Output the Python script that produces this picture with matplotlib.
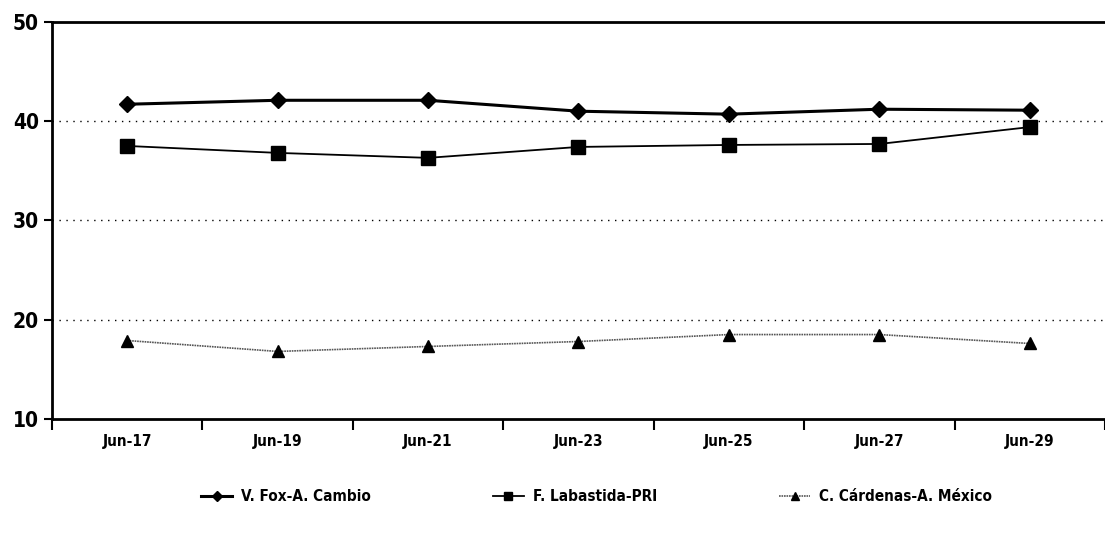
import matplotlib.pyplot as plt

# Poll dates and candidate series
dates = ['Jun-17', 'Jun-19', 'Jun-21', 'Jun-23', 'Jun-25', 'Jun-27', 'Jun-29']
fox = [41.7, 42.1, 42.1, 41.0, 40.7, 41.2, 41.1]
labastida = [37.5, 36.8, 36.3, 37.4, 37.6, 37.7, 39.4]
cardenas = [17.9, 16.8, 17.3, 17.8, 18.5, 18.5, 17.6]
yticks = [10, 20, 30, 40, 50]

plt.rcParams['font.family'] = ['DejaVu Sans']
plt.rcParams['font.stretch'] = 'condensed'

fig = plt.figure(figsize=(11.05, 5.33), dpi=100)
ax = fig.add_axes([0.047, 0.214, 0.953, 0.745])

x = range(len(dates))
ax.plot(x, fox, color='black', lw=2.2, marker='D', ms=8, label='V. Fox-A. Cambio')
ax.plot(x, labastida, color='black', lw=1.3, marker='s', ms=10, label='F. Labastida-PRI')
ax.plot(x, cardenas, color='#555555', lw=1.2, ls=(0, (1, 0.5)), marker='^', ms=9,
        mfc='black', mec='black', label='C. Cárdenas-A. México')

ax.set_ylim(10, 50)
ax.set_xlim(-0.5, len(dates) - 0.5)
ax.set_yticks(yticks)
ax.set_yticklabels([str(v) for v in yticks], fontsize=15, fontweight='bold')

# category ticks between points, labels centred under points
ax.set_xticks([i - 0.5 for i in range(len(dates) + 1)])
ax.set_xticklabels([])
ax.set_xticks(list(x), minor=True)
ax.set_xticklabels(dates, minor=True, fontsize=11, fontweight='bold')
ax.tick_params(axis='x', which='minor', length=0, pad=11)
ax.tick_params(axis='x', which='major', length=8, width=1.5, direction='out')
ax.tick_params(axis='y', length=6, width=1.5, direction='out')

for v in [20, 30, 40]:
    ax.axhline(v, color='black', lw=1.0, ls=(0, (1, 4)))

for s in ['left', 'bottom', 'top']:
    ax.spines[s].set_linewidth(2)
ax.spines['right'].set_visible(False)

fig.legend(loc='center', bbox_to_anchor=(0.54, 0.068), ncol=3, frameon=False,
           columnspacing=8, handlelength=2.0, handletextpad=0.6, markerscale=0.6,
           prop={'size': 11, 'weight': 'bold', 'stretch': 'condensed'})

fig.savefig('out.png', dpi=100)
